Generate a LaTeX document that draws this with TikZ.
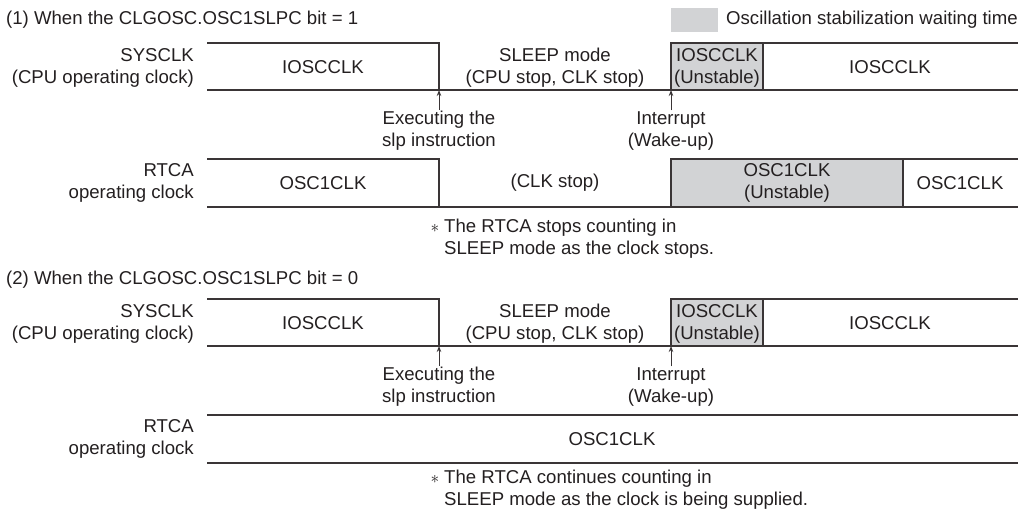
\documentclass[tikz,border=0pt]{standalone}
\usepackage{fontspec}
\setmainfont{Liberation Sans}
\usepackage{xcolor}
\usetikzlibrary{arrows.meta,positioning}

\definecolor{ink}{HTML}{231F20}
\definecolor{wavecol}{HTML}{3A3536}
\definecolor{stabgray}{HTML}{D2D3D5}

\begin{document}
\begin{tikzpicture}
  [x=1pt,y=-1pt,
   every node/.style={text=ink,inner sep=1pt,font=\fontsize{18.6}{22}\selectfont},
   wave/.style={draw=wavecol,line width=1.4pt},
   stab/.style={fill=stabgray},
   lbl/.style={anchor=east,align=right},
   txt/.style={align=center},
   trig/.style={draw=wavecol,line width=1pt,-{Stealth[length=6pt,width=4.5pt]}}]
  \useasboundingbox (0,0) rectangle (1023,512);

  % legend and titles
  \fill[stab] (671,8) rectangle (718,32);
  \node[anchor=west] (legend) at (725,20) {Oscillation stabilization waiting time};
  \node[anchor=west] (title1) at (5,20) {(1) When the CLGOSC.OSC1SLPC bit = 1};
  \node[anchor=west] (title2) at (5,280) {(2) When the CLGOSC.OSC1SLPC bit = 0};

  % (1) SYSCLK
  \fill[stab] (671,43) rectangle (763,90);
  \draw[wave] (207,43) -- (439,43) -- (439,90);
  \draw[wave] (671,90) -- (671,43) -- (1018,43);
  \draw[wave] (763,43) -- (763,90);
  \draw[wave] (207,90) -- (1018,90);
  \node[lbl] (sys1) at (195,68) {SYSCLK\\(CPU operating clock)};
  \node (ios1a) at (323,67) {IOSCCLK};
  \node[txt] (sleep1) at (555,68) {SLEEP mode\\(CPU stop, CLK stop)};
  \node[txt] (uns1) at (717,68) {IOSCCLK\\(Unstable)};
  \node (ios1b) at (890,67) {IOSCCLK};
  \node[txt] (exec1) at (439,131) {Executing the\\slp instruction};
  \node[txt] (int1) at (671,131) {Interrupt\\(Wake-up)};
  \coordinate (slp1) at (439,90);
  \coordinate (wake1) at (671,90);

  % (1) RTCA
  \fill[stab] (671,159) rectangle (903,207);
  \draw[wave] (207,159) -- (439,159) -- (439,207);
  \draw[wave] (671,207) -- (671,159) -- (1018,159);
  \draw[wave] (903,159) -- (903,207);
  \draw[wave] (207,207) -- (1018,207);
  \node[lbl] (rtc1) at (195,183) {RTCA\\operating clock};
  \node (osc1a) at (323,183) {OSC1CLK};
  \node (stop1) at (555,183) {(CLK stop)};
  \node[txt] (uns1r) at (787,183) {OSC1CLK\\(Unstable)};
  \node (osc1b) at (960,183) {OSC1CLK};
  \node (ast1) at (435,228) {$\ast$};
  \node[anchor=west,align=left] (note1) at (443,239) {The RTCA stops counting in\\SLEEP mode as the clock stops.};

  % (2) SYSCLK
  \fill[stab] (671,299) rectangle (763,346);
  \draw[wave] (207,299) -- (439,299) -- (439,346);
  \draw[wave] (671,346) -- (671,299) -- (1018,299);
  \draw[wave] (763,299) -- (763,346);
  \draw[wave] (207,346) -- (1018,346);
  \node[lbl] (sys2) at (195,324) {SYSCLK\\(CPU operating clock)};
  \node (ios2a) at (323,323) {IOSCCLK};
  \node[txt] (sleep2) at (555,324) {SLEEP mode\\(CPU stop, CLK stop)};
  \node[txt] (uns2) at (717,324) {IOSCCLK\\(Unstable)};
  \node (ios2b) at (890,323) {IOSCCLK};
  \node[txt] (exec2) at (439,387) {Executing the\\slp instruction};
  \node[txt] (int2) at (671,387) {Interrupt\\(Wake-up)};
  \coordinate (slp2) at (439,346);
  \coordinate (wake2) at (671,346);

  % (2) RTCA
  \draw[wave] (207,415) -- (1018,415);
  \draw[wave] (207,463) -- (1018,463);
  \node[lbl] (rtc2) at (195,439) {RTCA\\operating clock};
  \node (osc2) at (612,439) {OSC1CLK};
  \node (ast2) at (435,479) {$\ast$};
  \node[anchor=west,align=left] (note2) at (443,490) {The RTCA continues counting in\\SLEEP mode as the clock is being supplied.};

  \foreach \from/\to in {exec1/slp1,int1/wake1,exec2/slp2,int2/wake2}
    \draw[trig] (\from.north) -- (\to);

\end{tikzpicture}
\end{document}
